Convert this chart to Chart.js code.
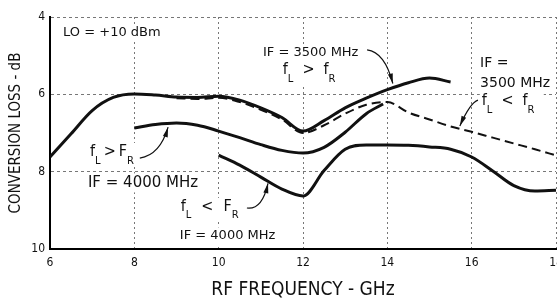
<!DOCTYPE html>
<html>
<head>
<meta charset="utf-8">
<script src="https://cdn.jsdelivr.net/npm/chart.js@4.4.1/dist/chart.umd.min.js"></script>
<style>
    html, body { margin: 0; padding: 0; background: #fff; }
    #wrap { width: 557px; height: 302px; }
</style>
</head>
<body>
<div id="wrap"><canvas id="loss_chart" width="557" height="302"></canvas></div>
<script>
// 读图得到的数据 (RF 频率 GHz / 变频损耗 dB)
var freqHi3500 = [6, 6.5, 7, 7.5, 8, 8.5, 9, 9.5, 10, 10.5, 11, 11.5, 12, 12.5, 13, 13.5, 14, 14.5, 15, 15.5];
var lossHi3500 = [7.62, 7.02, 6.42, 6.08, 5.99, 6.02, 6.07, 6.08, 6.05, 6.15, 6.35, 6.6, 6.95, 6.68, 6.35, 6.1, 5.88, 5.7, 5.58, 5.68];

var freqLo3500 = [9, 9.5, 10, 10.5, 11, 11.5, 12, 12.5, 13, 13.5, 14, 14.5, 15, 15.5, 16, 16.5, 17, 17.5, 18];
var lossLo3500 = [6.1, 6.12, 6.09, 6.2, 6.4, 6.65, 7.0, 6.8, 6.5, 6.27, 6.2, 6.47, 6.65, 6.83, 6.97, 7.12, 7.27, 7.42, 7.58];

var freqHi4000 = [8, 8.5, 9, 9.5, 10, 10.5, 11, 11.5, 12, 12.5, 13, 13.5, 13.9];
var lossHi4000 = [6.87, 6.78, 6.74, 6.8, 6.95, 7.12, 7.3, 7.45, 7.52, 7.37, 6.98, 6.5, 6.25];

var freqLo4000 = [10, 10.5, 11, 11.5, 12, 12.5, 13, 13.5, 14, 14.5, 15, 15.5, 16, 16.5, 17, 17.5, 18];
var lossLo4000 = [7.57, 7.83, 8.14, 8.45, 8.63, 7.97, 7.42, 7.31, 7.31, 7.32, 7.36, 7.42, 7.62, 7.98, 8.36, 8.5, 8.48];

var xTicks = [6, 8, 10, 12, 14, 16, 18];
var yTicks = [4, 6, 8, 10];

var FONT = "'DejaVu Sans Condensed', 'Liberation Sans Narrow', 'DejaVu Sans', sans-serif";
var NOTE_FONT = "'DejaVu Sans', sans-serif";
var INK = '#111';

function pts(xs, ys) {
    return xs.map(function (v, i) { return { x: v, y: ys[i] } });
}

function curve(xs, ys, dash, width) {
    return {
        data: pts(xs, ys),
        borderColor: INK,
        borderWidth: width,
        borderDash: dash,
        pointRadius: 0,
        fill: false,
        cubicInterpolationMode: 'monotone'
    }
}

// 图上的文字和引线 (数据坐标)
var plainNotes = [
    { text: 'LO = +10 dBm', at: [6.31, 4.41], size: 13 },
    { text: 'IF = 3500 MHz', at: [11.05, 4.93], size: 13 },
    { text: 'IF =', at: [16.2, 5.19], size: 14 },
    { text: '3500 MHz', at: [16.2, 5.71], size: 14 },
    { text: 'IF = 4000 MHz', at: [6.9, 8.29], size: 15 },
    { text: 'IF = 4000 MHz', at: [9.08, 9.66], size: 13 }
];
var relNotes = [
    { op: '>', f2: 'f', at: [11.52, 5.37], gap: 9 },
    { op: '<', f2: 'f', at: [16.24, 6.17], gap: 9 },
    { op: '>', f2: 'F', at: [6.95, 7.49], gap: 3 },
    { op: '<', f2: 'F', at: [9.1, 8.91], gap: 10 }
];
var leaders = [
    [[13.52, 4.85], [13.94, 4.91], [14.13, 5.72]],
    [[16.15, 6.15], [15.96, 6.22], [15.72, 6.82]],
    [[8.13, 7.65], [8.61, 7.57], [8.8, 6.85]],
    [[10.67, 8.94], [11.03, 8.99], [11.17, 8.3]]
];

function drawRel(ctx, x0, y0, op, f2, gap) {
    ctx.textBaseline = 'middle';
    ctx.textAlign = 'left';
    var x = x0;
    ctx.font = '16px ' + FONT;
    ctx.fillText('f', x, y0);
    x += ctx.measureText('f').width;
    ctx.font = '10px ' + NOTE_FONT;
    ctx.fillText('L', x, y0 + 9);
    x += ctx.measureText('L').width + gap;
    ctx.font = '16px ' + FONT;
    ctx.fillText(op, x, y0);
    x += ctx.measureText(op).width + gap;
    ctx.fillText(f2, x, y0);
    x += ctx.measureText(f2).width;
    ctx.font = '10px ' + NOTE_FONT;
    ctx.fillText('R', x, y0 + 9);
    return x + ctx.measureText('R').width - x0;
}

function arrowHead(ctx, from, tip) {
    var a = Math.atan2(tip[1] - from[1], tip[0] - from[0]);
    ctx.save();
    ctx.translate(tip[0], tip[1]);
    ctx.rotate(a);
    ctx.beginPath();
    ctx.moveTo(0, 0);
    ctx.lineTo(-10, -2.5);
    ctx.lineTo(-10, 2.5);
    ctx.closePath();
    ctx.fill();
    ctx.restore();
}

var notesPlugin = {
    id: 'notes',
    beforeDatasetsDraw: function (chart) {
        var ctx = chart.ctx, sx = chart.scales.x, sy = chart.scales.y;
        ctx.save();
        ctx.fillStyle = '#fff';
        plainNotes.forEach(function (n) {
            ctx.font = n.size + 'px ' + NOTE_FONT;
            var w = ctx.measureText(n.text).width;
            ctx.fillRect(sx.getPixelForValue(n.at[0]) - 2, sy.getPixelForValue(n.at[1]) - n.size / 2 - 2, w + 4, n.size + 4);
        });
        relNotes.forEach(function (n) {
            ctx.fillRect(sx.getPixelForValue(n.at[0]) - 2, sy.getPixelForValue(n.at[1]) - 9, 46 + n.gap * 2, 24);
        });
        ctx.restore();
    },
    afterDatasetsDraw: function (chart) {
        var ctx = chart.ctx, sx = chart.scales.x, sy = chart.scales.y;
        ctx.save();
        ctx.fillStyle = INK;
        ctx.strokeStyle = INK;
        ctx.textBaseline = 'middle';
        plainNotes.forEach(function (n) {
            ctx.font = n.size + 'px ' + NOTE_FONT;
            ctx.fillText(n.text, sx.getPixelForValue(n.at[0]), sy.getPixelForValue(n.at[1]));
        });
        relNotes.forEach(function (n) {
            drawRel(ctx, sx.getPixelForValue(n.at[0]), sy.getPixelForValue(n.at[1]), n.op, n.f2, n.gap);
        });
        ctx.lineWidth = 1.2;
        leaders.forEach(function (l) {
            var p = l.map(function (q) { return [sx.getPixelForValue(q[0]), sy.getPixelForValue(q[1])] });
            ctx.beginPath();
            ctx.moveTo(p[0][0], p[0][1]);
            ctx.quadraticCurveTo(p[1][0], p[1][1], p[2][0], p[2][1]);
            ctx.stroke();
            arrowHead(ctx, p[1], p[2]);
        });
        ctx.restore();
    }
};

new Chart(document.getElementById('loss_chart').getContext('2d'), {
    type: 'line',
    data: {
        datasets: [
            curve(freqHi3500, lossHi3500, [], 3),
            curve(freqLo3500, lossLo3500, [9, 5], 2),
            curve(freqHi4000, lossHi4000, [], 3),
            curve(freqLo4000, lossLo4000, [], 3)
        ]
    },
    options: {
        responsive: false,
        devicePixelRatio: 1,
        animation: false,
        layout: { padding: { top: 17, right: 1, left: 0, bottom: 0 } },
        plugins: {
            legend: { display: false },
            tooltip: { enabled: false }
        },
        scales: {
            x: {
                type: 'linear',
                min: 6,
                max: 18,
                afterBuildTicks: function (s) { s.ticks = xTicks.map(function (v) { return { value: v } }) },
                afterFit: function (s) { s.height = 53; s.paddingLeft = 0; s.paddingRight = 0 },
                grid: { color: '#777', lineWidth: 1, drawTicks: false },
                border: { display: true, color: '#000', width: 2, dash: [2, 3] },
                ticks: { color: INK, padding: 7, font: { family: FONT, size: 12 } },
                title: {
                    display: true,
                    text: 'RF FREQUENCY - GHz',
                    color: INK,
                    padding: { top: 0, bottom: 1 },
                    font: { family: FONT, size: 19 }
                }
            },
            y: {
                type: 'linear',
                reverse: true,
                min: 4,
                max: 10,
                afterBuildTicks: function (s) { s.ticks = yTicks.map(function (v) { return { value: v } }) },
                afterFit: function (s) { s.width = 50; s.paddingTop = 0; s.paddingBottom = 0 },
                grid: { color: '#777', lineWidth: 1, drawTicks: false },
                border: { display: true, color: '#000', width: 2, dash: [3, 3] },
                ticks: { color: INK, padding: 5, font: { family: FONT, size: 12 } },
                title: {
                    display: true,
                    text: 'CONVERSION LOSS - dB',
                    color: INK,
                    padding: { top: 7, bottom: 0 },
                    font: { family: FONT, size: 15 }
                }
            }
        }
    },
    plugins: [notesPlugin]
});
</script>
</body>
</html>
